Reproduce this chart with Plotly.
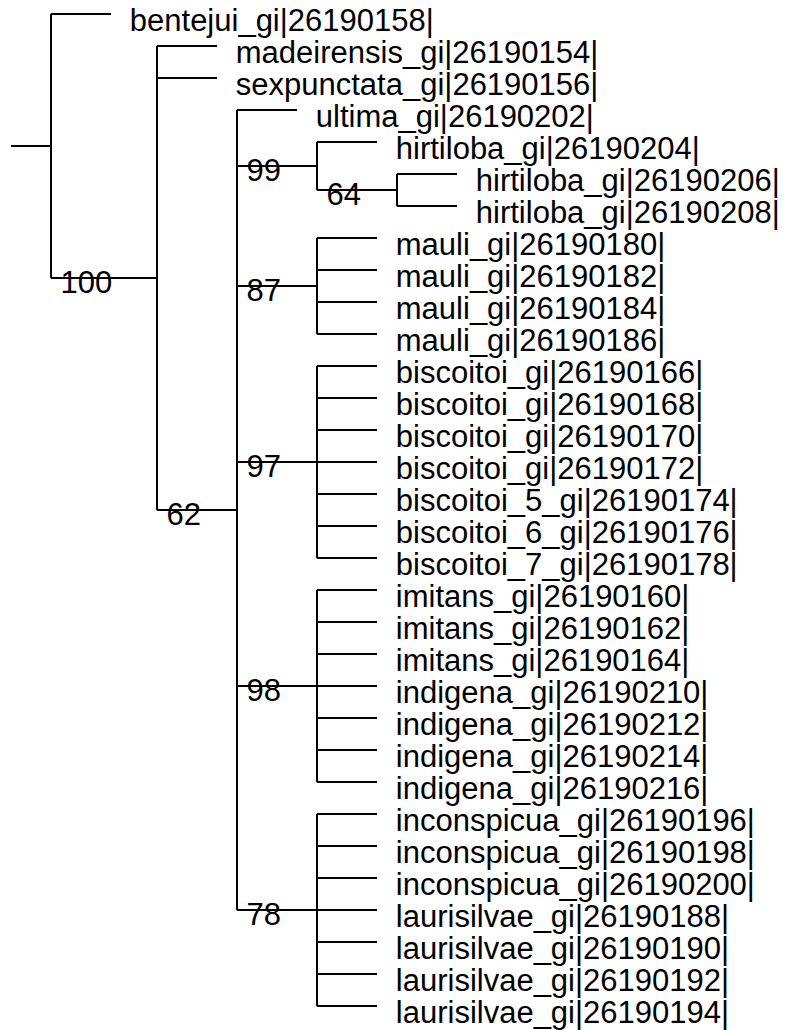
import plotly.graph_objects as go

# ---- data: tree topology, branch lengths, support values ----
tip_labels = [
    "bentejui_gi|26190158|",
    "madeirensis_gi|26190154|",
    "sexpunctata_gi|26190156|",
    "ultima_gi|26190202|",
    "hirtiloba_gi|26190204|",
    "hirtiloba_gi|26190206|",
    "hirtiloba_gi|26190208|",
    "mauli_gi|26190180|",
    "mauli_gi|26190182|",
    "mauli_gi|26190184|",
    "mauli_gi|26190186|",
    "biscoitoi_gi|26190166|",
    "biscoitoi_gi|26190168|",
    "biscoitoi_gi|26190170|",
    "biscoitoi_gi|26190172|",
    "biscoitoi_5_gi|26190174|",
    "biscoitoi_6_gi|26190176|",
    "biscoitoi_7_gi|26190178|",
    "imitans_gi|26190160|",
    "imitans_gi|26190162|",
    "imitans_gi|26190164|",
    "indigena_gi|26190210|",
    "indigena_gi|26190212|",
    "indigena_gi|26190214|",
    "indigena_gi|26190216|",
    "inconspicua_gi|26190196|",
    "inconspicua_gi|26190198|",
    "inconspicua_gi|26190200|",
    "laurisilvae_gi|26190188|",
    "laurisilvae_gi|26190190|",
    "laurisilvae_gi|26190192|",
    "laurisilvae_gi|26190194|",
]

node_names = ["root", "n100", "n62", "n99", "n64", "n87", "n97", "n98", "n78"]
node_support = ["", "100", "62", "99", "64", "87", "97", "98", "78"]

root_edge = 0.5
# edges: parent, child (tip index as int, internal node as name), length
edge_parent = (["root", "root"]
               + ["n100"] * 3
               + ["n62"] * 6
               + ["n99"] * 2
               + ["n64"] * 2
               + ["n87"] * 4
               + ["n97"] * 7
               + ["n98"] * 7
               + ["n78"] * 7)
edge_child = ([0, "n100"]
              + [1, 2, "n62"]
              + [3, "n99", "n87", "n97", "n98", "n78"]
              + [4, "n64"]
              + [5, 6]
              + [7, 8, 9, 10]
              + [11, 12, 13, 14, 15, 16, 17]
              + [18, 19, 20, 21, 22, 23, 24]
              + [25, 26, 27, 28, 29, 30, 31])
edge_length = ([0.75, 1.325]
               + [0.75, 0.75, 1.0]
               + [0.75, 1.0, 1.0, 1.0, 1.0, 1.0]
               + [0.75, 1.0]
               + [0.75, 0.75]
               + [0.75] * 4
               + [0.75] * 7
               + [0.75] * 7
               + [0.75] * 7)

# ---- layout computation (ape-style rectangular cladogram) ----
children = {}
for p, c, l in zip(edge_parent, edge_child, edge_length):
    children.setdefault(p, []).append((c, l))

xpos = {"root": root_edge}
ypos = {}


def place_x(node):
    for c, l in children.get(node, []):
        xpos[c] = xpos[node] + l
        if isinstance(c, str):
            place_x(c)


def place_y(node):
    if not isinstance(node, str):
        ypos[node] = node
        return
    ys = []
    for c, _ in children[node]:
        place_y(c)
        ys.append(ypos[c])
    ypos[node] = (min(ys) + max(ys)) / 2


place_x("root")
place_y("root")

lx, ly = [], []
# root stem
lx += [0, xpos["root"], None]
ly += [ypos["root"], ypos["root"], None]
for node in node_names:
    cys = [ypos[c] for c, _ in children[node]]
    lx += [xpos[node], xpos[node], None]
    ly += [min(cys), max(cys), None]
    for c, _ in children[node]:
        lx += [xpos[node], xpos[c], None]
        ly += [ypos[c], ypos[c], None]

fig = go.Figure()
fig.add_trace(go.Scatter(x=lx, y=ly, mode="lines",
                         line=dict(color="black", width=2),
                         hoverinfo="skip", showlegend=False))

FONT = dict(family="Liberation Sans, Arial, sans-serif", size=31, color="black")

tip_gap = 0.235
tip_dy = 0.3
fig.add_trace(go.Scatter(
    x=[xpos[i] + tip_gap for i in range(len(tip_labels))],
    y=[ypos[i] + tip_dy for i in range(len(tip_labels))],
    text=tip_labels, mode="text", textposition="middle right",
    textfont=FONT, hoverinfo="skip", showlegend=False, cliponaxis=False))

# support labels placed just right of parent vertical, under the branch
parent_of = {c: p for p, c in zip(edge_parent, edge_child)}
lab_nodes = [n for n, s in zip(node_names, node_support) if s]
lab_text = [s for s in node_support if s]
fig.add_trace(go.Scatter(
    x=[xpos[parent_of[n]] + 0.12 for n in lab_nodes],
    y=[ypos[n] + 0.22 for n in lab_nodes],
    text=lab_text, mode="text", textposition="middle right",
    textfont=FONT, hoverinfo="skip", showlegend=False, cliponaxis=False))

W, H = 781, 1022  # page body has an 8px margin
X0, Y0 = 3, 6     # pixel position of data origin inside the figure
fig.update_layout(
    width=W, height=H,
    margin=dict(l=0, r=0, t=0, b=0),
    paper_bgcolor="white", plot_bgcolor="white",
    xaxis=dict(range=[-X0 / 80, (W - X0) / 80], visible=False, fixedrange=True),
    yaxis=dict(range=[(H - Y0) / 32, -Y0 / 32], visible=False, fixedrange=True),
)

fig.write_html("out.html")
